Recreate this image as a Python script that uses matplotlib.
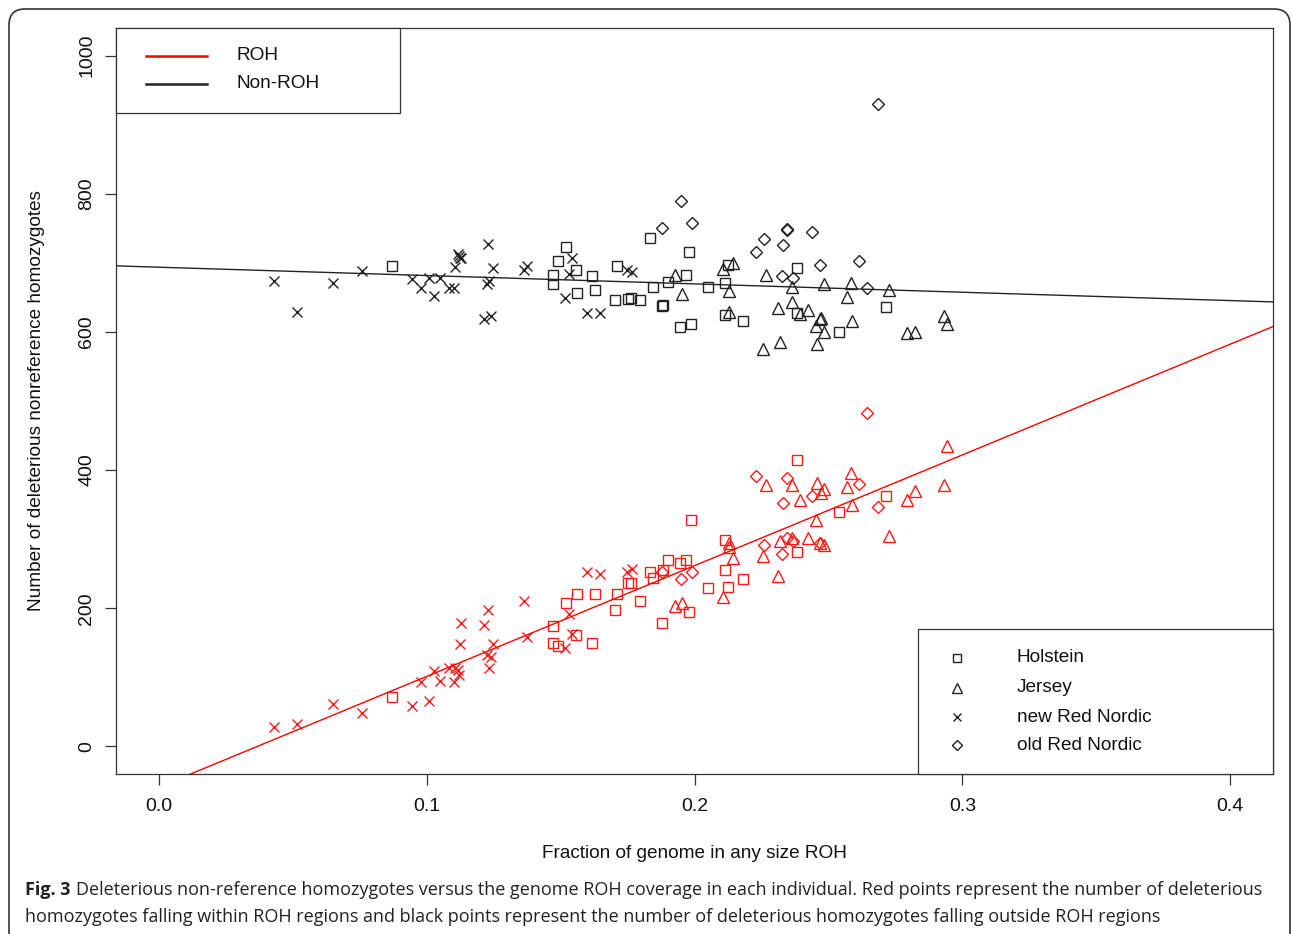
import numpy as np
import matplotlib
matplotlib.use("Agg")
import matplotlib.pyplot as plt
from matplotlib.lines import Line2D
from matplotlib.patches import Rectangle, FancyBboxPatch

# ---------------- data ----------------
breeds = ["Holstein", "Jersey", "new Red Nordic", "old Red Nordic"]

holstein_frac = [0.0869, 0.1473, 0.1473, 0.1491, 0.1521, 0.1558, 0.1562, 0.1618, 0.1629, 0.1704,
                 0.1711, 0.1752, 0.1763, 0.1797, 0.1834, 0.1845, 0.1879, 0.1883, 0.1901, 0.1946,
                 0.1968, 0.1979, 0.1987, 0.2050, 0.2114, 0.2114, 0.2125, 0.2181, 0.2382, 0.2382,
                 0.2539, 0.2714]
holstein_roh = [71, 174, 150, 145, 207, 161, 220, 150, 221, 198,
                221, 236, 237, 211, 253, 244, 179, 255, 270, 265,
                270, 194, 327, 230, 299, 256, 231, 242, 415, 281,
                340, 362]
holstein_nonroh = [696, 683, 670, 703, 723, 690, 657, 681, 661, 646,
                   696, 648, 649, 646, 736, 665, 638, 639, 672, 607,
                   683, 716, 612, 665, 671, 625, 697, 616, 693, 628,
                   600, 636]

jersey_frac = [0.1927, 0.1953, 0.2106, 0.2129, 0.2129, 0.2144, 0.2255, 0.2267, 0.2311, 0.2319,
               0.2363, 0.2363, 0.2393, 0.2423, 0.2453, 0.2457, 0.2468, 0.2472, 0.2483, 0.2483,
               0.2569, 0.2583, 0.2587, 0.2725, 0.2792, 0.2822, 0.2930, 0.2941]
jersey_roh = [203, 207, 216, 294, 288, 273, 276, 379, 247, 298,
              379, 301, 356, 302, 327, 382, 294, 367, 291, 373,
              375, 396, 350, 304, 357, 369, 379, 435]
jersey_nonroh = [683, 655, 691, 659, 629, 700, 576, 683, 635, 586,
                 665, 644, 626, 632, 609, 583, 619, 620, 600, 670,
                 651, 671, 616, 661, 599, 600, 623, 612]

newred_frac = [0.0429, 0.0514, 0.0649, 0.0760, 0.0947, 0.0977, 0.1007, 0.1029, 0.1048, 0.1085,
               0.1103, 0.1107, 0.1118, 0.1122, 0.1126, 0.1130, 0.1215, 0.1226, 0.1230, 0.1234,
               0.1241, 0.1249, 0.1364, 0.1376, 0.1517, 0.1532, 0.1543, 0.1599, 0.1648, 0.1748,
               0.1767]
newred_roh = [28, 33, 62, 48, 59, 93, 65, 109, 95, 113,
              93, 113, 110, 103, 148, 179, 175, 132, 197, 114,
              129, 148, 211, 158, 143, 192, 163, 252, 250, 252,
              257]
newred_nonroh = [674, 629, 671, 688, 677, 664, 678, 652, 678, 664,
                 664, 694, 713, 710, 707, 707, 619, 670, 727, 674,
                 623, 693, 690, 696, 649, 684, 707, 628, 628, 690,
                 687]

oldred_frac = [0.1879, 0.1950, 0.1991, 0.2229, 0.2259, 0.2330, 0.2345, 0.2345, 0.2326, 0.2367,
               0.2438, 0.2468, 0.2613, 0.2643, 0.2684]
oldred_roh = [252, 242, 252, 392, 291, 353, 388, 302, 279, 298,
              362, 294, 380, 482, 347]
oldred_nonroh = [751, 790, 758, 716, 735, 726, 749, 748, 681, 678,
                 745, 697, 703, 664, 930]

# fitted regression lines (intercept, slope)
roh_fit = (-59.0, 1603.0)
nonroh_fit = (693.7, -120.8)

x_ticks = [0.0, 0.1, 0.2, 0.3, 0.4]
y_ticks = [0, 200, 400, 600, 800, 1000]

# ---------------- figure ----------------
W, H = 1292, 934
fig = plt.figure(figsize=(W / 100, H / 100), dpi=100)
PF = "Liberation Sans"
LFS = 13.7

def fx(px):
    return px / W

def fy(py):
    return 1 - py / H

ax = fig.add_axes([fx(116), fy(774), fx(1273) - fx(116), fy(28) - fy(774)])
ax.set_xlim(-0.016, 0.416)
ax.set_ylim(-40, 1040)

markers = {"Holstein": ("s", 7.0), "Jersey": ("^", 8.0),
           "new Red Nordic": ("x", 7.0), "old Red Nordic": ("D", 6.0)}
series = {
    "Holstein": (holstein_frac, holstein_roh, holstein_nonroh),
    "Jersey": (jersey_frac, jersey_roh, jersey_nonroh),
    "new Red Nordic": (newred_frac, newred_roh, newred_nonroh),
    "old Red Nordic": (oldred_frac, oldred_roh, oldred_nonroh),
}
BLK = "#222222"
RED = "#ff1a1a"
for b in breeds:
    xs, r, n = series[b]
    m, ms = markers[b]
    ax.plot(xs, n, linestyle="none", marker=m, markersize=ms, markerfacecolor="none",
            markeredgecolor=BLK, markeredgewidth=1.0)
    ax.plot(xs, r, linestyle="none", marker=m, markersize=ms, markerfacecolor="none",
            markeredgecolor=RED, markeredgewidth=1.0)

xl = np.array(ax.get_xlim())
ax.plot(xl, roh_fit[0] + roh_fit[1] * xl, color="red", lw=1.0)
ax.plot(xl, nonroh_fit[0] + nonroh_fit[1] * xl, color=BLK, lw=1.0)
ax.set_xlim(-0.016, 0.416)
ax.set_ylim(-40, 1040)

ax.set_xticks(x_ticks)
ax.set_xticklabels([f"{v:.1f}" for v in x_ticks], fontfamily=PF, fontsize=14)
ax.set_yticks(y_ticks)
ax.set_yticklabels([str(v) for v in y_ticks], fontfamily=PF, fontsize=14, rotation=90, va="center")
ax.tick_params(direction="out", length=8, width=0.9, color="#333333", labelcolor="#111111")
ax.tick_params(axis="x", pad=9)
ax.tick_params(axis="y", pad=7)
for s in ax.spines.values():
    s.set_linewidth(0.9)
    s.set_color("#333333")

fig.text(fx(694), fy(853), "Fraction of genome in any size ROH", ha="center", va="center",
         fontfamily=PF, fontsize=LFS, color="#111111")
fig.text(fx(37), fy(401), "Number of deleterious nonreference homozygotes", ha="center", va="center",
         rotation=90, fontfamily=PF, fontsize=LFS, color="#111111")

# legend 1 (lines)
fig.add_artist(Rectangle((fx(116), fy(113)), fx(400) - fx(116), fy(28) - fy(113),
                         transform=fig.transFigure, fill=True, facecolor="white",
                         edgecolor="#333333", lw=0.9))
for label, col, py in [("ROH", "red", 56), ("Non-ROH", BLK, 84)]:
    fig.add_artist(Line2D([fx(146), fx(207)], [fy(py), fy(py)], color=col, lw=1.8,
                          transform=fig.transFigure))
    fig.text(fx(237), fy(py), label, ha="left", va="center", fontfamily=PF, fontsize=LFS,
             color="#111111")

# legend 2 (breeds)
fig.add_artist(Rectangle((fx(918), fy(774)), fx(1273) - fx(918), fy(629) - fy(774),
                         transform=fig.transFigure, fill=True, facecolor="white",
                         edgecolor="#333333", lw=0.9))
for b, py in zip(breeds, [658, 688, 717, 745]):
    m, ms = markers[b]
    fig.add_artist(Line2D([fx(957)], [fy(py)], marker=m, markersize=ms * 0.85,
                          markerfacecolor="none", markeredgecolor=BLK, markeredgewidth=1.0,
                          linestyle="none", transform=fig.transFigure))
    fig.text(fx(1017), fy(py), b, ha="left", va="center", fontfamily=PF, fontsize=LFS,
             color="#111111")

# outer rounded frame
fig.add_artist(FancyBboxPatch((9, -40), 1281, H - 9 + 40, boxstyle="round,pad=0,rounding_size=16",
                              transform=None, fill=False, edgecolor="#333333", lw=1.2))

# caption
CF = "Open Sans"
CFS = 13.0
fig.canvas.draw()
rend = fig.canvas.get_renderer()
t_bold = fig.text(fx(25), fy(890), "Fig. 3", ha="left", va="center", fontfamily=CF,
                  fontweight="bold", fontsize=CFS, color="#222222")
bb = t_bold.get_window_extent(renderer=rend)
fig.text((bb.x1 + 6) / W, fy(890),
         "Deleterious non-reference homozygotes versus the genome ROH coverage in each individual. "
         "Red points represent the number of deleterious",
         ha="left", va="center", fontfamily=CF, fontsize=CFS, color="#222222")
fig.text(fx(25), fy(917),
         "homozygotes falling within ROH regions and black points represent the number of "
         "deleterious homozygotes falling outside ROH regions",
         ha="left", va="center", fontfamily=CF, fontsize=CFS, color="#222222")

fig.savefig("out.png", dpi=100)
